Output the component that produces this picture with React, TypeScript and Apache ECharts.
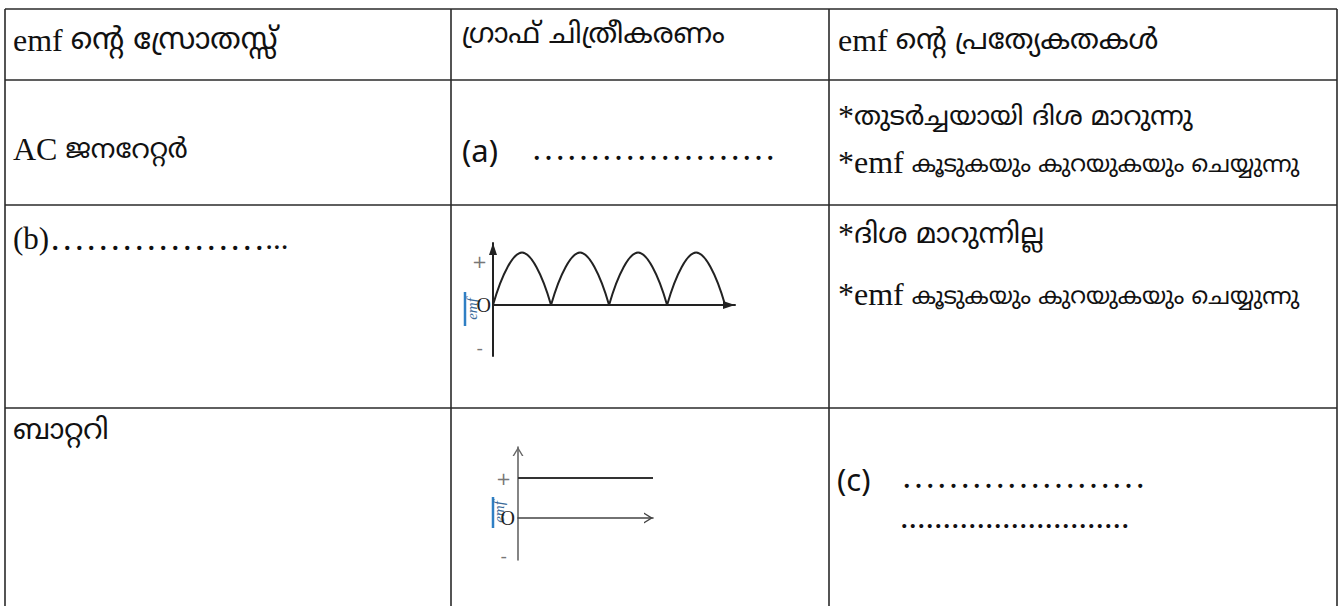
import React, { useEffect, useRef } from 'react';
import * as echarts from 'echarts';

// ---- table texts ----
const headers = ['emf ന്റെ സ്രോതസ്സ്', 'ഗ്രാഫ് ചിത്രീകരണം', 'emf ന്റെ പ്രത്യേകതകൾ'];
const sources = ['AC ജനറേറ്റർ', '(b)', 'ബാറ്ററി'];
const answerLabels = ['(a)', '(c)'];
const ellipsisBlank = '…………………';
const ellipsisShort = '………………';
const periodBlank = '...........................';
const acProperties = ['*തുടർച്ചയായി ദിശ മാറുന്നു', '*emf കൂടുകയും കുറയുകയും ചെയ്യുന്നു'];
const dcProperties = ['*ദിശ മാറുന്നില്ല', '*emf കൂടുകയും കുറയുകയും ചെയ്യുന്നു'];
const axisName = 'emf';

// ---- graph data: [time, emf] ----
const hump1 = [[0, 0], [0.25, 0.72], [0.5, 1], [0.75, 0.72], [1, 0]];
const hump2 = [[1, 0], [1.25, 0.72], [1.5, 1], [1.75, 0.72], [2, 0]];
const hump3 = [[2, 0], [2.25, 0.72], [2.5, 1], [2.75, 0.72], [3, 0]];
const hump4 = [[3, 0], [3.25, 0.72], [3.5, 1], [3.75, 0.72], [4, 0]];
const rectifiedHumps = [hump1, hump2, hump3, hump4];
const batteryEmf = [[0, 1], [1, 1]];

// ---- tick labels ----
const tickLabels = ['+', 'O', '-'];
const tickStyles = ['p', 'o', 'm'];
const pulseTickValues = [0.82, 0, -0.8];
const batteryTickValues = [1, 0, -0.93];

const SERIF = "'Liberation Serif', 'Noto Serif Malayalam', 'Noto Sans Malayalam', serif";
const MAL = "'Noto Sans Malayalam', 'Liberation Serif', sans-serif";
const CHEVRON = 'path://M0,9 L5.5,0 L11,9 L9.4,9 L5.5,2.6 L1.6,9 Z';
const INK = '#111';

function tickFormatter(values: number[]) {
  return (v: number) => {
    const i = values.findIndex((t) => Math.abs(t - v) < 1e-6);
    if (i < 0) return '';
    return `{${tickStyles[i]}|${tickLabels[i]}}`;
  };
}

const tickRich = {
  p: { fontSize: 18, color: '#777', fontFamily: 'DejaVu Sans', padding: [0, 4, 0, 0] },
  o: { fontSize: 20, color: '#222', fontFamily: 'Liberation Serif' },
  m: { fontSize: 18, color: '#777', fontFamily: 'DejaVu Sans', padding: [0, 8, 0, 0] },
};

// Split a string into Latin and Malayalam runs so each can get its own size.
function mixed(x: number, y: number, str: string, latinSize: number, malSize: number) {
  const parts = str.split(/([\u0D00-\u0D7F\u200C\u200D]+(?:\s+[\u0D00-\u0D7F\u200C\u200D]+)*)/).filter((s) => s.length > 0);
  const text = parts
    .map((p) => (/[\u0D00-\u0D7F]/.test(p) ? `{m|${p}}` : `{l|${p}}`))
    .join('');
  return {
    type: 'text',
    x,
    y,
    style: {
      text,
      align: 'left',
      verticalAlign: 'middle',
      rich: {
        l: { fontSize: latinSize, fontFamily: SERIF, fill: INK, verticalAlign: 'bottom' },
        m: { fontSize: malSize, fontFamily: MAL, fill: INK, verticalAlign: 'bottom' },
      },
    },
  };
}

function text(x: number, y: number, t: string, fontSize: number, fontFamily = SERIF) {
  return {
    type: 'text',
    x,
    y,
    style: { text: t, fontSize, fontFamily, fill: INK, align: 'left', verticalAlign: 'middle' },
  };
}

function hLine(y: number, x1: number, x2: number) {
  return { type: 'line', shape: { x1, y1: y, x2, y2: y }, style: { stroke: '#2a2a2a', lineWidth: 1.6 } };
}
function vLine(x: number, y1: number, y2: number) {
  return { type: 'line', shape: { x1: x, y1, x2: x, y2 }, style: { stroke: '#2a2a2a', lineWidth: 1.6 } };
}

export default function App() {
  const ref = useRef<HTMLDivElement>(null);
  useEffect(() => {
    if (!ref.current) return;
    const chart = echarts.init(ref.current, null, { renderer: 'svg' });

    const axisBase = {
      axisTick: { show: false },
      splitLine: { show: false },
    };

    const option: any = {
      animation: false,
      backgroundColor: '#ffffff',
      grid: [
        { left: 493, top: 243, width: 242, height: 113 },
        { left: 518, top: 447, width: 135, height: 113 },
      ],
      xAxis: [
        {
          ...axisBase,
          gridIndex: 0,
          type: 'value',
          min: 0,
          max: 4.17,
          axisLabel: { show: false },
          axisLine: {
            show: true,
            onZero: true,
            symbol: ['none', 'triangle'],
            symbolSize: [8, 12],
            symbolOffset: [0, -6],
            lineStyle: { color: '#222', width: 2 },
          },
        },
        {
          ...axisBase,
          gridIndex: 1,
          type: 'value',
          min: 0,
          max: 1,
          axisLabel: { show: false },
          axisLine: {
            show: true,
            onZero: true,
            symbol: ['none', CHEVRON],
            symbolSize: [11, 9],
            symbolOffset: [0, -4.5],
            lineStyle: { color: '#444', width: 1.6 },
          },
        },
      ],
      yAxis: [
        {
          ...axisBase,
          gridIndex: 0,
          type: 'value',
          min: -0.97,
          max: 1.18,
          axisLine: {
            show: true,
            onZero: false,
            symbol: ['none', 'triangle'],
            symbolSize: [8, 12],
            symbolOffset: [0, -6],
            lineStyle: { color: '#222', width: 2 },
          },
          axisLabel: {
            show: true,
            customValues: pulseTickValues,
            formatter: tickFormatter(pulseTickValues),
            rich: tickRich,
            margin: 2,
          },
        },
        {
          ...axisBase,
          gridIndex: 1,
          type: 'value',
          min: -1.05,
          max: 1.775,
          axisLine: {
            show: true,
            onZero: false,
            symbol: ['none', CHEVRON],
            symbolSize: [11, 9],
            symbolOffset: [0, -4.5],
            lineStyle: { color: '#666', width: 1.6 },
          },
          axisLabel: {
            show: true,
            customValues: batteryTickValues,
            formatter: tickFormatter(batteryTickValues),
            rich: tickRich,
            margin: 3,
          },
        },
      ],
      series: [
        ...rectifiedHumps.map((h) => ({
          type: 'line',
          xAxisIndex: 0,
          yAxisIndex: 0,
          data: h,
          smooth: 0.4,
          symbol: 'none',
          clip: false,
          lineStyle: { color: '#222', width: 2 },
        })),
        {
          type: 'line',
          xAxisIndex: 1,
          yAxisIndex: 1,
          data: batteryEmf,
          symbol: 'none',
          clip: false,
          lineStyle: { color: '#333', width: 2 },
        },
      ],
      graphic: [
        // table rules
        hLine(9, 5, 1337),
        hLine(80, 5, 1337),
        hLine(205, 5, 1337),
        hLine(408, 5, 1337),
        vLine(5, 9, 606),
        vLine(451, 9, 606),
        vLine(829, 9, 606),
        vLine(1337, 9, 606),
        // headers
        mixed(13, 40, headers[0], 32, 30),
        mixed(462, 36, headers[1], 32, 28.2),
        mixed(838, 40, headers[2], 32, 28.5),
        // row 1
        mixed(13, 149, sources[0], 32, 27),
        text(462, 150, answerLabels[0], 31, "'Noto Sans', sans-serif"),
        text(531, 148, ellipsisBlank, 35, 'Liberation Serif'),
        mixed(838, 116, acProperties[0], 32, 26.6),
        mixed(838, 162, acProperties[1], 32, 23.3),
        // row 2
        {
          type: 'text',
          x: 13,
          y: 238,
          style: {
            text: `{l|${sources[1]}}{d|${ellipsisShort}}{p|...}`,
            verticalAlign: 'middle',
            align: 'left',
            rich: {
              l: { fontSize: 31, fontFamily: 'Liberation Serif', fill: INK },
              d: { fontSize: 36, fontFamily: 'Liberation Serif', fill: INK },
              p: { fontSize: 31, fontFamily: 'Liberation Serif', fill: INK },
            },
          },
        },
        mixed(838, 234, dcProperties[0], 32, 28),
        mixed(838, 294, dcProperties[1], 32, 23.3),
        // row 3
        mixed(13, 432, sources[2], 32, 28.3),
        text(837, 479, answerLabels[1], 31, "'Noto Sans', sans-serif"),
        text(901, 476, ellipsisBlank, 35, 'Liberation Serif'),
        text(900, 516, periodBlank, 34, 'Liberation Serif'),
        // rotated axis names
        {
          type: 'line',
          shape: { x1: 465, y1: 292, x2: 465, y2: 326 },
          style: { stroke: '#2f7fc4', lineWidth: 2.5 },
        },
        {
          type: 'text',
          x: 472,
          y: 309,
          rotation: Math.PI / 2,
          style: { text: axisName, fontSize: 15, fontStyle: 'italic', fontFamily: 'Liberation Serif', fill: '#3b6a99', align: 'center', verticalAlign: 'middle' },
        },
        {
          type: 'line',
          shape: { x1: 493, y1: 497, x2: 493, y2: 528 },
          style: { stroke: '#2f7fc4', lineWidth: 2.5 },
        },
        {
          type: 'text',
          x: 499,
          y: 512,
          rotation: Math.PI / 2,
          style: { text: axisName, fontSize: 15, fontStyle: 'italic', fontFamily: 'Liberation Serif', fill: '#3b6a99', align: 'center', verticalAlign: 'middle' },
        },
      ],
    };

    chart.setOption(option);
    return () => chart.dispose();
  }, []);

  return (
    <div
      ref={ref}
      style={{ position: 'absolute', left: 0, top: 0, width: 1343, height: 606, background: '#fff' }}
    />
  );
}
